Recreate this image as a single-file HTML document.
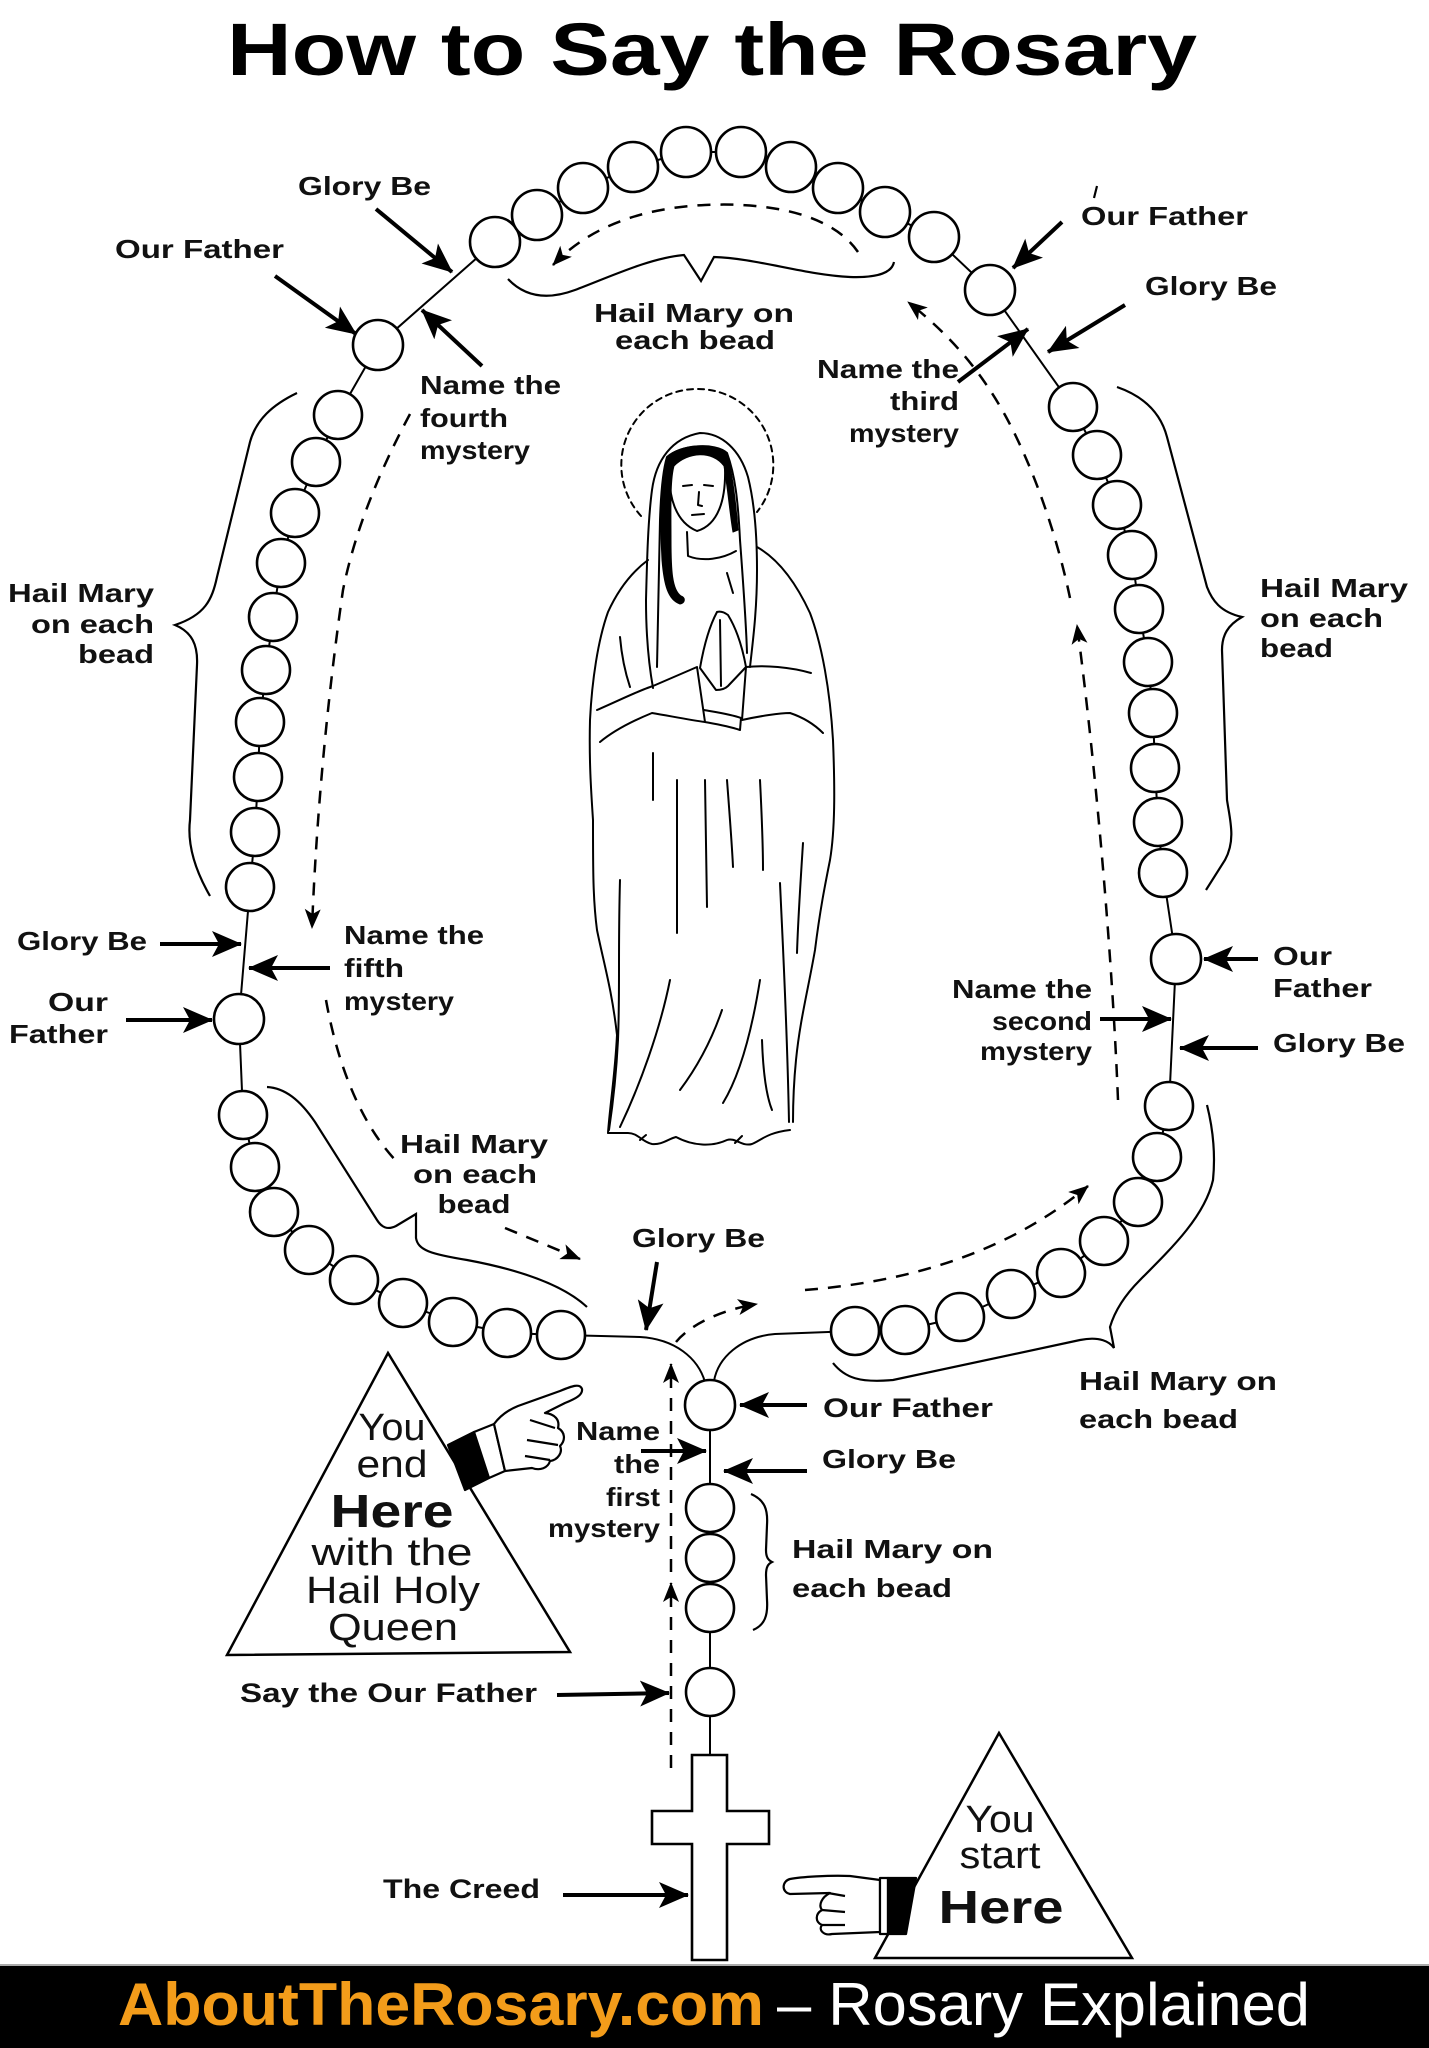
<!DOCTYPE html>
<html>
<head>
<meta charset="utf-8">
<style>
html,body{margin:0;padding:0;background:#fff;}
svg{display:block;}
.L{font-family:"Liberation Sans",Arial,sans-serif;font-weight:bold;font-size:26px;fill:#111;}
.T{font-family:"Liberation Sans",Arial,sans-serif;font-size:38px;fill:#111;}
.H{font-family:"Liberation Sans",Arial,sans-serif;font-weight:bold;font-size:46px;fill:#111;}
</style>
</head>
<body>
<svg width="1429" height="2048" viewBox="0 0 1429 2048" xmlns="http://www.w3.org/2000/svg">
<defs>
<marker id="a" markerUnits="userSpaceOnUse" markerWidth="30" markerHeight="26" viewBox="0 0 30 26" refX="29" refY="13" orient="auto"><path d="M0,0 L30,13 L0,26 L7,13 Z" fill="#000"/></marker>
<marker id="d" markerUnits="userSpaceOnUse" markerWidth="20" markerHeight="16" viewBox="0 0 20 16" refX="19" refY="8" orient="auto"><path d="M0,0 L20,8 L0,16 L5,8 Z" fill="#000"/></marker>
</defs>
<rect x="0" y="0" width="1429" height="2048" fill="#fff"/>

<!-- Title -->
<text x="227" y="75" font-family="Liberation Sans, Arial, sans-serif" font-weight="bold" font-size="74" fill="#000" textLength="970" lengthAdjust="spacingAndGlyphs">How to Say the Rosary</text>

<!-- chain lines -->
<g stroke="#000" stroke-width="2" fill="none">
<polyline points="239,1019 250,887 255,832 258,777 260,722 266,670 273,617 281,563 295,513 316,462 338,415 378,345 495,242 537,215 583,188 633,167 686,152 741,152 791,167 838,188 885,212 934,237 990,290 1073,407 1097,455 1117,505 1132,555 1139,609 1148,662 1153,713 1155,768 1158,822 1163,873 1176,959 1169,1106 1157,1157 1138,1202 1104,1241 1061,1273 1011,1294 960,1317 905,1330 855,1331"/>
<polyline points="239,1019 243,1115 255,1167 274,1212 309,1250 354,1280 403,1303 453,1322 507,1333 561,1335"/>
<path d="M 561 1335 L 640 1337 C 675 1339 698 1358 705 1382"/>
<path d="M 855 1331 L 775 1334 C 740 1337 718 1358 714 1381"/>
<path d="M 710 1405 L 710 1756"/>
</g>

<!-- beads -->
<g stroke="#000" stroke-width="2.6" fill="#fff">
<circle cx="495" cy="242" r="25"/><circle cx="537" cy="215" r="25"/><circle cx="583" cy="188" r="25"/><circle cx="633" cy="167" r="25"/><circle cx="686" cy="152" r="25"/><circle cx="741" cy="152" r="25"/><circle cx="791" cy="167" r="25"/><circle cx="838" cy="188" r="25"/><circle cx="885" cy="212" r="25"/><circle cx="934" cy="237" r="25"/>
<circle cx="378" cy="345" r="25"/><circle cx="990" cy="290" r="25"/>
<circle cx="338" cy="415" r="24"/><circle cx="316" cy="462" r="24"/><circle cx="295" cy="513" r="24"/><circle cx="281" cy="563" r="24"/><circle cx="273" cy="617" r="24"/><circle cx="266" cy="670" r="24"/><circle cx="260" cy="722" r="24"/><circle cx="258" cy="777" r="24"/><circle cx="255" cy="832" r="24"/><circle cx="250" cy="887" r="24"/>
<circle cx="1073" cy="407" r="24"/><circle cx="1097" cy="455" r="24"/><circle cx="1117" cy="505" r="24"/><circle cx="1132" cy="555" r="24"/><circle cx="1139" cy="609" r="24"/><circle cx="1148" cy="662" r="24"/><circle cx="1153" cy="713" r="24"/><circle cx="1155" cy="768" r="24"/><circle cx="1158" cy="822" r="24"/><circle cx="1163" cy="873" r="24"/>
<circle cx="239" cy="1019" r="25"/><circle cx="1176" cy="959" r="25"/>
<circle cx="243" cy="1115" r="24"/><circle cx="255" cy="1167" r="24"/><circle cx="274" cy="1212" r="24"/><circle cx="309" cy="1250" r="24"/><circle cx="354" cy="1280" r="24"/><circle cx="403" cy="1303" r="24"/><circle cx="453" cy="1322" r="24"/><circle cx="507" cy="1333" r="24"/><circle cx="561" cy="1335" r="24"/>
<circle cx="855" cy="1331" r="24"/><circle cx="905" cy="1330" r="24"/><circle cx="960" cy="1317" r="24"/><circle cx="1011" cy="1294" r="24"/><circle cx="1061" cy="1273" r="24"/><circle cx="1104" cy="1241" r="24"/><circle cx="1138" cy="1202" r="24"/><circle cx="1157" cy="1157" r="24"/><circle cx="1169" cy="1106" r="24"/>
<circle cx="710" cy="1405" r="25"/>
<circle cx="710" cy="1508" r="24"/><circle cx="710" cy="1558" r="24"/><circle cx="710" cy="1608" r="24"/>
<circle cx="710" cy="1692" r="24"/>
<path d="M 692 1755 L 727 1755 L 727 1811 L 769 1811 L 769 1844 L 727 1844 L 727 1960 L 692 1960 L 692 1844 L 652 1844 L 652 1811 L 692 1811 Z"/>
</g>

<!-- braces -->
<g stroke="#000" stroke-width="2.2" fill="none">
<path d="M 508 279 C 525 297 548 300 575 290 C 612 276 650 258 684 255 L 701 281 L 714 257 C 755 258 805 275 850 277 C 880 278 892 272 894 262"/>
<path d="M 297 393 C 272 405 256 420 250 442 L 217 577 C 212 600 205 615 175 625 C 192 632 198 645 197 665 L 190 820 C 187 845 195 870 210 896"/>
<path d="M 1117 387 C 1140 395 1160 410 1167 437 L 1207 587 C 1212 600 1220 612 1242 617 C 1228 625 1222 635 1222 650 L 1227 800 C 1230 820 1236 840 1225 860 L 1206 890"/>
<path d="M 267 1087 C 285 1088 300 1100 315 1122 L 377 1220 C 382 1228 388 1230 396 1226 L 416 1214 L 416 1238 C 418 1250 430 1254 467 1260 C 510 1268 560 1282 587 1307"/>
<path d="M 833 1363 C 845 1378 860 1383 893 1380 L 1080 1340 C 1100 1336 1110 1342 1114 1348 L 1110 1327 C 1115 1310 1125 1295 1140 1280 C 1175 1245 1205 1215 1213 1180 C 1216 1150 1212 1125 1207 1105"/>
<path d="M 751 1494 C 765 1500 768 1510 767 1525 L 766 1550 C 766 1557 768 1560 772 1562 C 768 1564 766 1567 766 1575 L 767 1600 C 768 1615 765 1625 753 1630"/>
<path d="M 1097 186 L 1094 198"/>
</g>

<!-- dashed paths -->
<g stroke="#000" stroke-width="2.5" fill="none" stroke-dasharray="13 10">
<path d="M 858 252 C 832 214 770 202 705 205 C 640 208 588 228 553 265" marker-end="url(#d)"/>
<path d="M 410 414 C 380 470 355 530 343 590 C 330 680 317 800 312 928" marker-end="url(#d)"/>
<path d="M 326 1000 C 335 1050 355 1120 400 1165"/>
<path d="M 505 1228 L 580 1259" marker-end="url(#d)"/>
<path d="M 676 1342 C 690 1325 720 1310 757 1304" marker-end="url(#d)"/>
<path d="M 805 1290 C 905 1282 1005 1255 1088 1186" marker-end="url(#d)"/>
<path d="M 1118 1100 C 1112 950 1095 760 1077 625" marker-end="url(#d)"/>
<path d="M 1070 598 C 1058 540 1035 470 1005 415 C 980 370 950 335 908 302" marker-end="url(#d)"/>
<path d="M 671 1768 L 671 1583" marker-end="url(#d)"/>
<path d="M 671 1572 L 671 1364" marker-end="url(#d)"/>
</g>

<!-- solid arrows -->
<g stroke="#000" stroke-width="4" fill="none">
<line x1="376" y1="209" x2="452" y2="272" marker-end="url(#a)"/>
<line x1="275" y1="276" x2="356" y2="334" marker-end="url(#a)"/>
<line x1="482" y1="366" x2="422" y2="310" marker-end="url(#a)"/>
<line x1="1062" y1="222" x2="1013" y2="268" marker-end="url(#a)"/>
<line x1="1125" y1="305" x2="1048" y2="352" marker-end="url(#a)"/>
<line x1="958" y1="382" x2="1028" y2="329" marker-end="url(#a)"/>
<line x1="160" y1="944" x2="241" y2="944" marker-end="url(#a)"/>
<line x1="330" y1="968" x2="249" y2="968" marker-end="url(#a)"/>
<line x1="126" y1="1020" x2="212" y2="1020" marker-end="url(#a)"/>
<line x1="1258" y1="959" x2="1204" y2="959" marker-end="url(#a)"/>
<line x1="1100" y1="1019" x2="1171" y2="1019" marker-end="url(#a)"/>
<line x1="1258" y1="1048" x2="1180" y2="1048" marker-end="url(#a)"/>
<line x1="657" y1="1262" x2="646" y2="1330" marker-end="url(#a)"/>
<line x1="807" y1="1405" x2="740" y2="1405" marker-end="url(#a)"/>
<line x1="807" y1="1471" x2="724" y2="1471" marker-end="url(#a)"/>
<line x1="641" y1="1451" x2="706" y2="1451" marker-end="url(#a)"/>
<line x1="557" y1="1695" x2="669" y2="1693" marker-end="url(#a)"/>
<line x1="563" y1="1895" x2="688" y2="1895" marker-end="url(#a)"/>
</g>

<!-- Mary figure -->
<g stroke="#000" stroke-width="2" fill="none" stroke-linecap="round" stroke-linejoin="round">
<path d="M 641 516 A 76 76 0 1 1 757 512" stroke-dasharray="6 5"/>
<path d="M 653 688 C 648 660 646 630 646 600 C 647 560 648 520 652 490 C 656 460 672 438 700 433 C 722 433 740 450 748 477 C 755 505 757 540 757 570 C 757 610 753 640 750 667"/>
<path d="M 657 667 C 658 620 659 570 660 520 C 661 490 663 470 667 457 C 680 445 715 442 727 453 C 735 475 738 500 740 540 C 743 580 746 620 747 653"/>
<path d="M 670 470 C 668 495 675 522 697 531 C 718 525 726 500 725 468"/>
<path fill="#000" stroke-width="1" d="M 667 457 C 660 480 660 520 662 560 C 664 585 668 600 680 604 C 685 603 686 598 681 596 C 672 590 671 570 671 540 C 671 510 670 480 674 466 C 688 452 712 450 724 466 C 728 490 730 515 733 532 L 738 530 C 736 505 733 475 727 453 C 712 442 680 444 667 457 Z"/>
<path d="M 683 486 L 692 485 M 704 485 L 713 486 M 699 492 L 698 505 L 702 506 M 692 515 L 704 514"/>
<path d="M 687 532 L 688 556 C 703 562 722 559 736 551"/>
<path d="M 648 560 C 632 572 618 590 608 612 C 598 640 592 680 590 720 C 589 760 591 790 593 820 C 593 870 593 900 597 930 C 603 960 612 990 617 1035 C 615 1075 610 1105 608 1133"/>
<path d="M 757 547 C 780 560 797 585 810 613 C 822 645 830 690 833 740 C 835 790 835 830 830 860 C 825 885 820 910 815 950 C 808 990 800 1020 796 1060 C 793 1090 793 1110 793 1122"/>
<path d="M 608 1133 L 628 1133 C 638 1133 642 1142 652 1144 C 662 1145 668 1139 676 1137 C 693 1146 712 1147 727 1140 C 735 1137 742 1147 752 1144 C 762 1140 766 1133 790 1130"/>
<path fill="#fff" d="M 717 612 C 710 625 704 645 700 668 L 716 690 C 722 690 726 688 728 686 L 746 667 C 742 645 736 628 728 615 C 724 612 720 611 717 612 Z M 720 620 L 721 686"/>
<path d="M 597 710 C 620 700 640 690 653 686 L 697 667 L 705 722 C 690 720 670 716 652 713 C 630 722 612 732 600 742"/>
<path d="M 746 667 C 765 665 790 667 811 673 M 746 667 L 742 720 C 760 716 780 713 790 713 C 805 718 815 725 823 733"/>
<path d="M 704 710 C 715 712 730 714 741 718 L 740 730 C 728 726 716 724 705 722"/>
<path d="M 620 880 C 618 950 620 990 618 1040 C 616 1080 612 1110 609 1130 M 780 883 C 783 950 787 1020 789 1122"/>
<path d="M 677 780 L 677 933 M 705 780 L 707 907 M 727 780 C 730 820 732 845 733 867 M 760 780 C 762 820 763 845 763 870 M 670 980 C 660 1030 640 1085 620 1127 M 722 1010 C 710 1045 695 1070 680 1090 M 760 980 C 752 1030 740 1075 723 1103 M 762 1040 C 763 1070 766 1095 772 1110 M 803 843 C 800 890 798 920 797 953 M 653 753 L 653 800 M 620 637 C 622 660 626 675 630 687 M 727 573 L 733 593"/>
<path d="M 640 1140 L 646 1135 M 735 1143 L 742 1136"/>
</g>

<!-- triangles -->
<g stroke="#000" stroke-width="2.5" fill="none">
<polygon points="388,1353 227,1655 570,1652"/>
<polygon points="999,1733 875,1958 1132,1958"/>
</g>

<!-- end hand -->
<g stroke="#000" stroke-width="2.2" stroke-linejoin="round">
<path fill="#000" d="M 448 1445 L 474 1432 L 489 1478 L 465 1490 Z"/>
<path fill="#fff" d="M 474 1432 L 494 1424 L 505 1471 L 489 1478 Z"/>
<path fill="#fff" d="M 494 1424 C 500 1416 508 1410 518 1406 L 560 1391 C 572 1386 580 1383 582 1389 C 583 1395 575 1399 565 1403 L 545 1413 C 555 1414 560 1420 558 1428 C 565 1432 566 1440 560 1446 C 563 1452 558 1460 550 1461 C 548 1468 540 1471 532 1468 L 505 1471 Z"/>
<path fill="none" d="M 530 1420 L 555 1428 M 527 1440 L 558 1445 M 525 1456 L 550 1460"/>
</g>
<!-- start hand -->
<g stroke="#000" stroke-width="2.2" stroke-linejoin="round">
<path fill="#fff" d="M 880 1880 L 850 1876 C 830 1875 800 1877 790 1879 C 782 1881 781 1892 790 1894 L 830 1893 C 822 1897 818 1905 822 1910 C 815 1914 815 1922 822 1925 C 818 1930 824 1936 832 1934 L 880 1932 Z"/>
<path fill="none" d="M 828 1893 L 845 1896 M 822 1910 L 845 1912 M 822 1925 L 845 1925"/>
<path fill="#fff" d="M 880 1878 L 888 1878 L 888 1934 L 880 1934 Z"/>
<path fill="#000" d="M 888 1878 L 916 1878 L 906 1934 L 888 1934 Z"/>
</g>

<!-- labels -->
<g class="L">
<text x="298" y="195" textLength="133" lengthAdjust="spacingAndGlyphs">Glory Be</text>
<text x="115" y="258" textLength="169" lengthAdjust="spacingAndGlyphs">Our Father</text>
<text x="420" y="394" textLength="141" lengthAdjust="spacingAndGlyphs">Name the</text>
<text x="420" y="427" textLength="88" lengthAdjust="spacingAndGlyphs">fourth</text>
<text x="420" y="459" textLength="110" lengthAdjust="spacingAndGlyphs">mystery</text>
<text x="594" y="322" textLength="200" lengthAdjust="spacingAndGlyphs">Hail Mary on</text>
<text x="615" y="349" textLength="160" lengthAdjust="spacingAndGlyphs">each bead</text>
<text x="1081" y="225" textLength="167" lengthAdjust="spacingAndGlyphs">Our Father</text>
<text x="1145" y="295" textLength="132" lengthAdjust="spacingAndGlyphs">Glory Be</text>
<text x="959" y="378" text-anchor="end" textLength="142" lengthAdjust="spacingAndGlyphs">Name the</text>
<text x="959" y="410" text-anchor="end" textLength="69" lengthAdjust="spacingAndGlyphs">third</text>
<text x="959" y="442" text-anchor="end" textLength="110" lengthAdjust="spacingAndGlyphs">mystery</text>
<text x="154" y="602" text-anchor="end" textLength="146" lengthAdjust="spacingAndGlyphs">Hail Mary</text>
<text x="154" y="633" text-anchor="end" textLength="123" lengthAdjust="spacingAndGlyphs">on each</text>
<text x="154" y="663" text-anchor="end" textLength="76" lengthAdjust="spacingAndGlyphs">bead</text>
<text x="1260" y="597" textLength="148" lengthAdjust="spacingAndGlyphs">Hail Mary</text>
<text x="1260" y="627" textLength="123" lengthAdjust="spacingAndGlyphs">on each</text>
<text x="1260" y="657" textLength="73" lengthAdjust="spacingAndGlyphs">bead</text>
<text x="17" y="950" textLength="130" lengthAdjust="spacingAndGlyphs">Glory Be</text>
<text x="344" y="944" textLength="140" lengthAdjust="spacingAndGlyphs">Name the</text>
<text x="344" y="977" textLength="60" lengthAdjust="spacingAndGlyphs">fifth</text>
<text x="344" y="1010" textLength="110" lengthAdjust="spacingAndGlyphs">mystery</text>
<text x="48" y="1011" textLength="60" lengthAdjust="spacingAndGlyphs">Our</text>
<text x="9" y="1043" textLength="99" lengthAdjust="spacingAndGlyphs">Father</text>
<text x="1273" y="965" textLength="59" lengthAdjust="spacingAndGlyphs">Our</text>
<text x="1273" y="997" textLength="99" lengthAdjust="spacingAndGlyphs">Father</text>
<text x="1092" y="998" text-anchor="end" textLength="140" lengthAdjust="spacingAndGlyphs">Name the</text>
<text x="1092" y="1030" text-anchor="end" textLength="100" lengthAdjust="spacingAndGlyphs">second</text>
<text x="1092" y="1060" text-anchor="end" textLength="112" lengthAdjust="spacingAndGlyphs">mystery</text>
<text x="1273" y="1052" textLength="132" lengthAdjust="spacingAndGlyphs">Glory Be</text>
<text x="474" y="1153" text-anchor="middle" textLength="148" lengthAdjust="spacingAndGlyphs">Hail Mary</text>
<text x="475" y="1183" text-anchor="middle" textLength="124" lengthAdjust="spacingAndGlyphs">on each</text>
<text x="474" y="1213" text-anchor="middle" textLength="73" lengthAdjust="spacingAndGlyphs">bead</text>
<text x="632" y="1247" textLength="133" lengthAdjust="spacingAndGlyphs">Glory Be</text>
<text x="823" y="1417" font-size="27" textLength="170" lengthAdjust="spacingAndGlyphs">Our Father</text>
<text x="822" y="1468" textLength="134" lengthAdjust="spacingAndGlyphs">Glory Be</text>
<text x="1079" y="1390" textLength="198" lengthAdjust="spacingAndGlyphs">Hail Mary on</text>
<text x="1079" y="1428" textLength="159" lengthAdjust="spacingAndGlyphs">each bead</text>
<text x="660" y="1440" text-anchor="end" textLength="84" lengthAdjust="spacingAndGlyphs">Name</text>
<text x="660" y="1473" text-anchor="end" textLength="46" lengthAdjust="spacingAndGlyphs">the</text>
<text x="660" y="1506" text-anchor="end" textLength="54" lengthAdjust="spacingAndGlyphs">first</text>
<text x="660" y="1537" text-anchor="end" textLength="112" lengthAdjust="spacingAndGlyphs">mystery</text>
<text x="792" y="1558" textLength="201" lengthAdjust="spacingAndGlyphs">Hail Mary on</text>
<text x="792" y="1597" textLength="160" lengthAdjust="spacingAndGlyphs">each bead</text>
<text x="240" y="1702" font-size="27" textLength="297" lengthAdjust="spacingAndGlyphs">Say the Our Father</text>
<text x="383" y="1898" font-size="27" textLength="157" lengthAdjust="spacingAndGlyphs">The Creed</text>
</g>

<!-- triangle texts -->
<text class="T" x="392" y="1440" text-anchor="middle" textLength="67" lengthAdjust="spacingAndGlyphs">You</text>
<text class="T" x="392" y="1477" text-anchor="middle" textLength="71" lengthAdjust="spacingAndGlyphs">end</text>
<text class="H" x="392" y="1527" text-anchor="middle" textLength="123" lengthAdjust="spacingAndGlyphs">Here</text>
<text class="T" x="392" y="1565" text-anchor="middle" textLength="161" lengthAdjust="spacingAndGlyphs">with the</text>
<text class="T" x="393" y="1603" text-anchor="middle" textLength="174" lengthAdjust="spacingAndGlyphs">Hail Holy</text>
<text class="T" x="393" y="1640" text-anchor="middle" textLength="130" lengthAdjust="spacingAndGlyphs">Queen</text>
<text class="T" x="1000" y="1832" text-anchor="middle" textLength="69" lengthAdjust="spacingAndGlyphs">You</text>
<text class="T" x="1000" y="1868" text-anchor="middle" textLength="81" lengthAdjust="spacingAndGlyphs">start</text>
<text class="H" x="1001" y="1923" text-anchor="middle" textLength="125" lengthAdjust="spacingAndGlyphs">Here</text>

<!-- footer -->
<rect x="0" y="1964" width="1429" height="2" fill="#aaa"/>
<rect x="0" y="1966" width="1429" height="82" fill="#000"/>
<text x="118" y="2025" font-family="Liberation Sans, Arial, sans-serif" font-weight="bold" font-size="60" fill="#f39c1a" textLength="646" lengthAdjust="spacingAndGlyphs">AboutTheRosary.com</text>
<text x="777" y="2025" font-family="Liberation Sans, Arial, sans-serif" font-size="60" fill="#fff" textLength="533" lengthAdjust="spacingAndGlyphs">– Rosary Explained</text>
</svg>
</body>
</html>
